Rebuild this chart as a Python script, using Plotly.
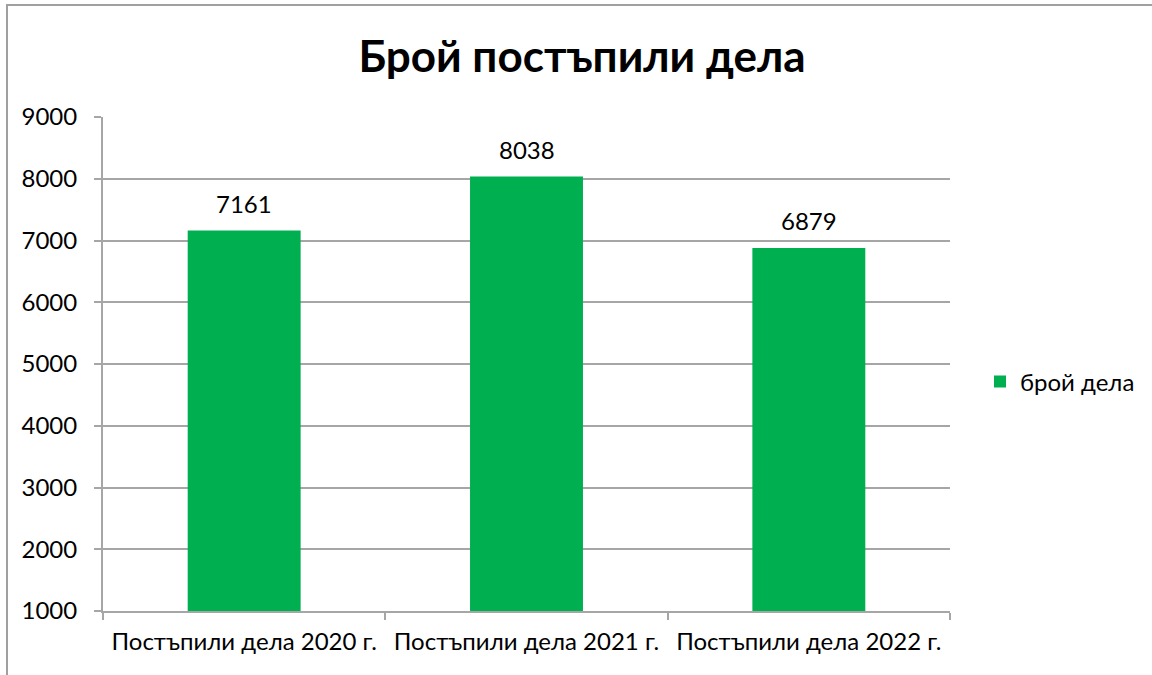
import plotly.graph_objects as go

categories = ["Постъпили дела 2020 г.", "Постъпили дела 2021 г.", "Постъпили дела 2022 г."]
values = [7161, 8038, 6879]
series_name = "брой дела"
title_text = "Брой постъпили дела"

FONT = "Lato, Open Sans, sans-serif"
GRID = "#A6A6A6"

W, H = 1152, 675
L, R, T, B = 103, 950, 117, 611
pw, ph = R - L, B - T

def px_x(x):
    return (x - L) / pw

def px_y(y):
    return (B - y) / ph

fig = go.Figure()
fig.add_trace(go.Bar(
    x=categories, y=values, name=series_name,
    marker=dict(color="#00B050", line=dict(width=0)),
))

for c, v in zip(categories, values):
    fig.add_annotation(x=c, y=v, text=str(v), showarrow=False,
                       yanchor="middle", yshift=27,
                       font=dict(size=24, family=FONT, color="#000000"))

fig.update_layout(
    width=W, height=H,
    margin=dict(l=L, r=W - R, t=T, b=H - B, pad=0),
    paper_bgcolor="white", plot_bgcolor="white",
    bargap=0.6,
    font=dict(family=FONT, size=24, color="#000000"),
    title=dict(text="<b>" + title_text + "</b>", x=582 / W, xanchor="center",
               y=1 - 57 / H, yanchor="middle", yref="container",
               font=dict(size=44, family=FONT, color="#000000")),
    showlegend=True,
    legend=dict(x=px_x(980), y=px_y(382), xanchor="left", yanchor="middle",
                font=dict(size=24, family=FONT), itemwidth=30,
                bgcolor="rgba(0,0,0,0)"),
    xaxis=dict(showgrid=False, showline=True, linecolor=GRID, linewidth=2,
               ticks="outside", tickson="boundaries", ticklen=7, tickcolor=GRID,
               tickwidth=2, tickfont=dict(size=24, family=FONT),
               ticklabelstandoff=8),
    yaxis=dict(range=[1000, 9000], dtick=1000, showgrid=True, gridcolor=GRID,
               gridwidth=1.5, showline=True, linecolor=GRID, linewidth=2,
               ticks="outside", ticklen=7, tickcolor=GRID, tickwidth=2,
               tickfont=dict(size=24, family=FONT), zeroline=False,
               ticklabelstandoff=12),
    shapes=[dict(type="rect", xref="paper", yref="paper",
                 x0=px_x(7), x1=px_x(1170), y0=px_y(700), y1=px_y(5),
                 line=dict(color="#A0A0A0", width=2), fillcolor="rgba(0,0,0,0)",
                 layer="below")],
)

fig.write_html("out.html", config={"displayModeBar": False},
               post_script="document.body.style.margin='0';document.body.style.overflow='hidden';")
